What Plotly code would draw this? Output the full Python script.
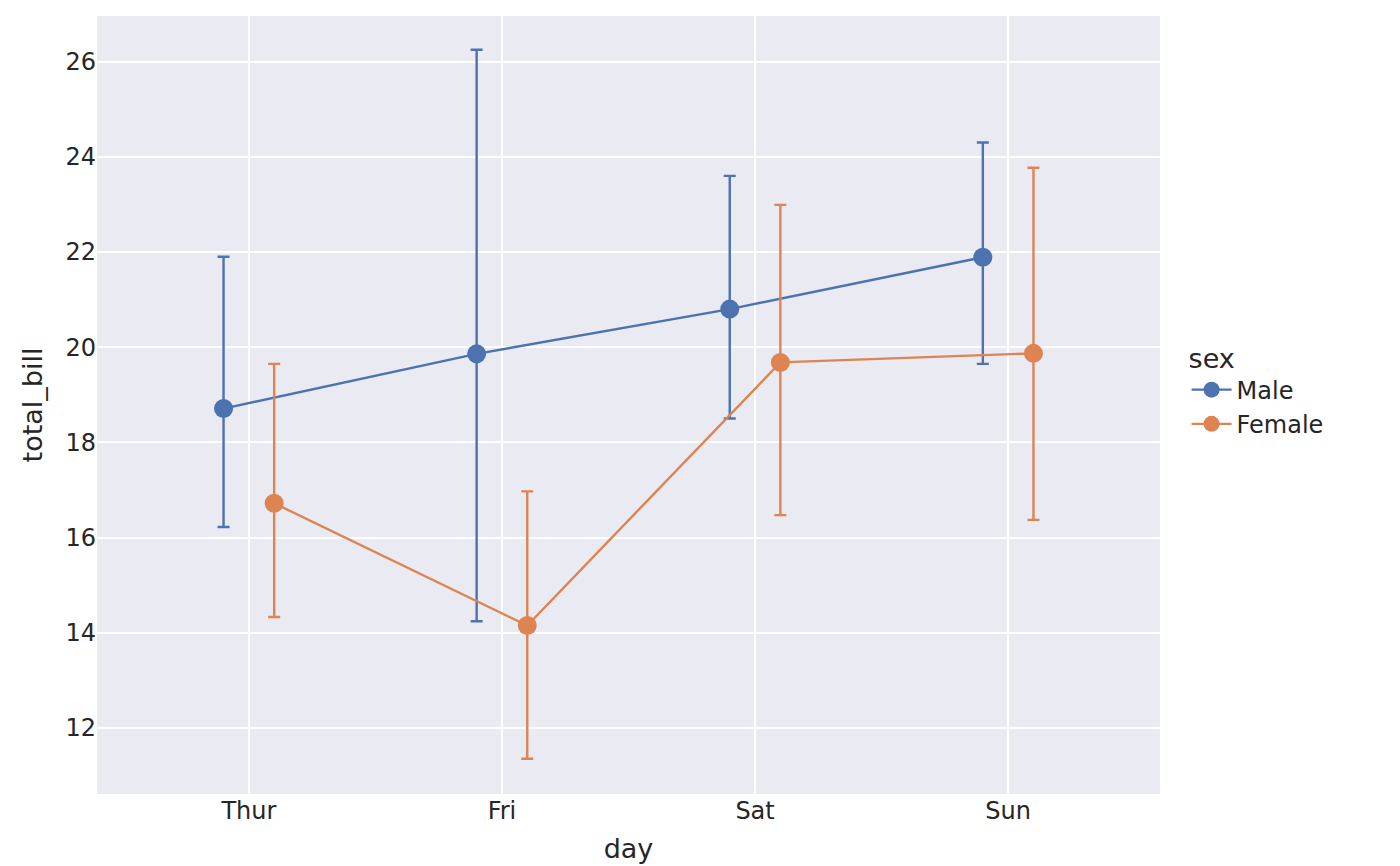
import plotly.graph_objects as go

days = ["Thur", "Fri", "Sat", "Sun"]
male_mean = [18.71, 19.86, 20.80, 21.89]
male_lo = [16.22, 14.24, 18.50, 19.65]
male_hi = [21.90, 26.25, 23.60, 24.30]
female_mean = [16.72, 14.15, 19.68, 19.87]
female_lo = [14.33, 11.35, 16.47, 16.37]
female_hi = [19.65, 16.97, 22.99, 23.77]
yticks = [12, 14, 16, 18, 20, 22, 24, 26]

fig = go.Figure()
for name, m, lo, hi, col, off in [
    ("Male", male_mean, male_lo, male_hi, "#4C72B0", -0.1),
    ("Female", female_mean, female_lo, female_hi, "#DD8452", 0.1),
]:
    xs = [i + off for i in range(len(days))]
    fig.add_trace(go.Scatter(
        x=xs, y=m, name=name, mode="lines+markers",
        line=dict(color=col, width=2.4),
        marker=dict(color=col, size=19),
        error_y=dict(type="data", symmetric=False,
                     array=[h - v for h, v in zip(hi, m)],
                     arrayminus=[v - l for v, l in zip(m, lo)],
                     color=col, thickness=2.4, width=6),
    ))

fig.update_layout(
    width=1400, height=866,
    margin=dict(l=89, r=248, t=8, b=80),
    paper_bgcolor="white", plot_bgcolor="#EAEAF2",
    font=dict(family="DejaVu Sans", size=24, color="#262626"),
    legend=dict(title=dict(text="sex", font=dict(size=27)), x=1.025, y=0.52,
                yanchor="middle", font=dict(size=24), bgcolor="rgba(0,0,0,0)",
                tracegroupgap=12, itemwidth=40),
    xaxis=dict(range=[-0.6, 3.6], tickvals=list(range(len(days))), ticktext=days,
               showgrid=True, gridcolor="white", gridwidth=2, zeroline=False,
               title=dict(text="day", font=dict(size=27)), tickfont=dict(size=24)),
    yaxis=dict(range=[10.61, 26.96], tickvals=yticks,
               showgrid=True, gridcolor="white", gridwidth=2, zeroline=False,
               title=dict(text="total_bill", font=dict(size=27)), tickfont=dict(size=24)),
)
fig.write_html("out.html")
